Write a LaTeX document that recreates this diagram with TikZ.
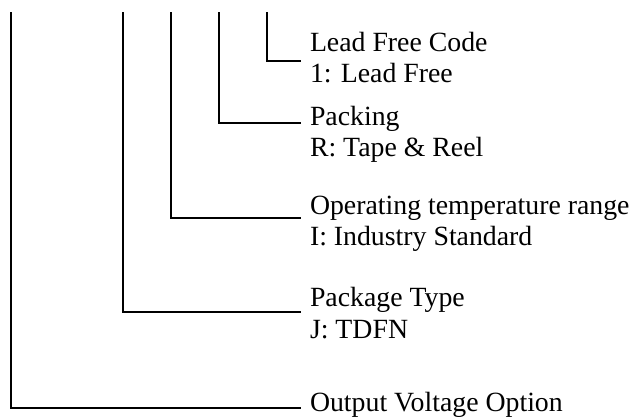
\documentclass[tikz,border=0pt]{standalone}
\usepackage{fontspec}
\setmainfont{Liberation Serif}
\begin{document}
\begin{tikzpicture}[x=1pt,y=-1pt,
  lbl/.style={anchor=base west,inner sep=0pt,outer sep=0pt,font=\fontsize{27.8}{32}\selectfont},
  conn/.style={line width=1.6pt,line cap=rect}]
\useasboundingbox (0,0) rectangle (635,419);
% tops of the vertical lines
\coordinate (t1) at (11,13);
\coordinate (t2) at (123,13);
\coordinate (t3) at (171,13);
\coordinate (t4) at (219,13);
\coordinate (t5) at (267,13);
% ends of the horizontal lines
\coordinate (e5) at (300,61);
\coordinate (e4) at (300,123);
\coordinate (e3) at (300,218);
\coordinate (e2) at (300,312);
\coordinate (e1) at (300,408);
% labels
\node[lbl] (lf)  at (310,52)  {Lead Free Code};
\node[lbl] (lf1) at (310,83)  {1: Lead Free};
\node[lbl] (pk)  at (310,126) {Packing};
\node[lbl] (pk1) at (310,157) {R: Tape \& Reel};
\node[lbl] (op)  at (310,215) {Operating temperature range};
\node[lbl] (op1) at (310,246) {I: Industry Standard};
\node[lbl] (pt)  at (310,307) {Package Type};
\node[lbl] (pt1) at (310,339) {J: TDFN};
\node[lbl] (ov)  at (310,412) {Output Voltage Option};
% connectors
\draw[conn] (t5) |- (e5);
\draw[conn] (t4) |- (e4);
\draw[conn] (t3) |- (e3);
\draw[conn] (t2) |- (e2);
\draw[conn] (t1) |- (e1);
\end{tikzpicture}
\end{document}
